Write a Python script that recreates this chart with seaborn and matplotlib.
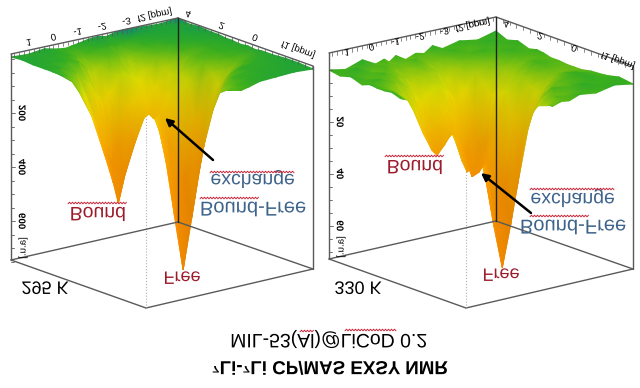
import numpy as np
import matplotlib
matplotlib.use("Agg")
import matplotlib.pyplot as plt
import matplotlib.patheffects as pe
from matplotlib.colors import PowerNorm
from matplotlib.transforms import Affine2D
import seaborn as sns

# grid of the two spectra, as fraction of each box side
grid_a = [0, .1, .2, .28, .33, .36, .40, .46, .52, .57, .62, .68, .78, .89, 1]
grid_b = [0, .1, .2, .3, .38, .43, .48, .54, .60, .65, .70, .76, .84, .92, 1]

# intensity, one row per grid_b
int_295 = [
    [3, 2, 4, 4, 6, 7, 6, 5, 7, 9, 7, 4, 3, 2, 3],
    [3, 3, 4, 5, 8, 9, 8, 7, 10, 13, 10, 6, 4, 3, 2],
    [3, 4, 5, 8, 12, 14, 12, 11, 17, 23, 16, 9, 5, 4, 2],
    [3, 5, 8, 14, 22, 26, 25, 24, 38, 54, 40, 20, 8, 5, 3],
    [4, 9, 14, 24, 34, 40, 40, 52, 103, 147, 114, 62, 20, 10, 3],
    [4, 12, 18, 28, 40, 46, 46, 82, 155, 209, 160, 98, 30, 13, 4],
    [4, 10, 16, 26, 36, 42, 42, 60, 108, 150, 118, 66, 22, 10, 3],
    [3, 8, 20, 38, 58, 66, 54, 46, 64, 85, 58, 28, 12, 7, 4],
    [3, 12, 38, 72, 98, 108, 90, 62, 52, 60, 44, 24, 11, 7, 3],
    [3, 16, 52, 95, 124, 145, 118, 88, 58, 68, 50, 28, 13, 6, 3],
    [3, 11, 36, 68, 94, 105, 84, 55, 46, 52, 40, 22, 10, 4, 2],
    [3, 6, 14, 28, 44, 50, 40, 25, 28, 34, 24, 12, 5, 3, 2],
    [3, 4, 6, 11, 19, 24, 18, 12, 14, 18, 12, 7, 3, 2, 1],
    [2, 3, 4, 7, 11, 13, 10, 6, 6, 7, 5, 3, 2, 2, 2],
    [3, 4, 2, 5, 6, 5, 4, 2, 1, 3, 1, 0, 1, 2, 0],
]
int_330 = [
    [1, -2, 3, 0, 5, 2, 6, 1, 7, 4, 5, 1, 3, -1, 2],
    [-1, 3, 0, 4, 3, 9, 2, 7, 6, 13, 5, 6, -1, 2, 0],
    [3, 0, 5, 2, 11, 8, 12, 6, 17, 18, 15, 4, 5, 0, 3],
    [2, 5, 3, 14, 19, 28, 20, 23, 31, 51, 35, 12, 7, 1, 4],
    [4, 4, 15, 29, 60, 66, 63, 54, 102, 136, 108, 48, 17, 5, 6],
    [3, 12, 18, 44, 76, 88, 84, 80, 148, 191, 150, 80, 24, 9, 6],
    [4, 5, 17, 31, 58, 66, 63, 60, 110, 148, 112, 50, 19, 6, 6],
    [1, 7, 12, 30, 42, 52, 45, 42, 63, 88, 61, 25, 12, 3, 5],
    [2, 6, 18, 44, 64, 70, 60, 53, 80, 104, 73, 30, 14, 4, 5],
    [2, 8, 23, 58, 76, 82, 72, 62, 88, 111, 80, 33, 13, 7, 3],
    [1, 7, 16, 40, 56, 62, 56, 44, 62, 88, 58, 24, 10, 5, 2],
    [4, 2, 9, 17, 28, 34, 26, 22, 30, 42, 30, 14, 8, 1, 4],
    [0, 5, 3, 10, 13, 18, 12, 11, 14, 22, 12, 7, 2, 4, 0],
    [3, -1, 6, 4, 9, 7, 10, 3, 9, 8, 6, 2, 5, -1, 3],
    [1, 4, -2, 5, 2, 6, 1, 7, 3, 5, -1, 4, 0, 3, -2],
]

f2_ticks = [1, 0, -1, -2, -3]
f1_ticks = [4, 2, 0]
z_ticks_295 = [200, 400, 600]
z_ticks_330 = [20, 40, 60]

title_lines = ["\u2077Li-\u2077Li CP/MAS EXSY NMR", "MIL-53(Al)@LiCoD 0.2"]

RED = "#9c1c2c"
BLUE = "#3e648c"
GREY = "#5a5a5a"

sns.set_theme(style="white")
plt.rcParams["font.family"] = ["Liberation Sans", "DejaVu Sans"]

cmap = sns.blend_palette(["#0c8a78", "#22a436", "#3cb01c", "#a0cc0c", "#e0dc00", "#ecc800",
                          "#f0a800", "#f29400", "#f28c00", "#f08a00", "#ee8800"],
                         as_cmap=True)
norm = PowerNorm(0.5, vmin=0, vmax=209, clip=True)


class FlipText(pe.AbstractPathEffect):
    # the whole source image is upside down, text included
    def draw_path(self, renderer, gc, tpath, affine, rgbFace=None):
        renderer.draw_path(gc, tpath, Affine2D().scale(1, -1) + affine, rgbFace)


fig = plt.figure(figsize=(6.4, 3.88), dpi=100)
ax = fig.add_axes([0, 0, 1, 1])


def ftext(x, y, s, size, color="black", rotation=0, **kw):
    # y is the centre of the caps, baseline ends up on top after the flip
    off = 0.36 * size * 100 / 72
    ang = np.deg2rad(rotation)
    ax.text(x - off * np.sin(ang), y - off * np.cos(ang), s, fontsize=size, color=color,
            rotation=rotation, rotation_mode="anchor", ha="center", va="baseline",
            path_effects=[FlipText()], zorder=6, **kw)


def wave(x0, x1, y):
    xs = np.arange(x0, x1, 1.5)
    ax.plot(xs, y + 0.8 * (-1.0) ** np.arange(len(xs)), color="#c8283c", lw=0.7, zorder=6)


def draw_panel(z, p):
    ox, oy = p["far"]
    (ux, uy), (vx, vy) = p["u"], p["v"]
    h = p["height"]

    def pos(a, b, d=0):
        return ox + ux * a + vx * b, oy + uy * a + vy * b + d

    L, B, R, F = pos(0, 1), pos(1, 1), pos(1, 0), pos(0, 0)
    Lb, Bb, Rb, Fb = pos(0, 1, h), pos(1, 1, h - 2), pos(1, 0, h - 3), pos(0, 0, h)

    # box parts behind the surface
    for s, e in [(Lb, Fb), (Fb, Rb)]:
        ax.plot([s[0], e[0]], [s[1], e[1]], color=GREY, lw=1, zorder=1)
    ax.plot([Fb[0], F[0]], [Fb[1], F[1]], color="#b0b0b0", lw=0.8, ls=":", zorder=1)

    Z = np.array(z, dtype=float)
    A, BB = np.meshgrid(grid_a, grid_b)
    X, Y = pos(A, BB, p["plane"] + Z)

    # light from the left, right hand flanks come out a bit darker
    rgb = cmap(norm(Z + p["base"]))[:, :, :3]
    shade = 1 + 0.05 * np.clip(np.gradient(Z, axis=1) / 40, -1, 1)
    rgb = np.clip(rgb * shade[:, :, None], 0, 1)
    ax.pcolormesh(X, Y, rgb, shading="gouraud", zorder=2)

    # box parts in front
    for s, e in [(L, B), (B, R), (L, Lb), (R, Rb), (Lb, Bb), (Bb, Rb)]:
        ax.plot([s[0], e[0]], [s[1], e[1]], color=GREY, lw=1, zorder=3)
    ax.plot([B[0], Bb[0]], [B[1], Bb[1]], color="#222222", lw=1, zorder=3)

    # ticks along the two top edges
    for ppm in np.arange(-5, 1.8, 0.2):
        a = 0.108 + 0.146 * (1 - ppm)
        if 0 <= a <= 1:
            sx, sy = pos(a, 1)
            ax.plot([sx, sx], [sy, sy + 3.5], color=GREY, lw=0.5, zorder=3)
    for ppm in np.arange(-3.4, 4.6, 0.4):
        b = 0.43 + 0.124 * ppm
        if 0 <= b <= 1:
            sx, sy = pos(1, b)
            ax.plot([sx, sx], [sy, sy + 3.5], color=GREY, lw=0.5, zorder=3)

    for ppm in f2_ticks:
        lx, ly = pos(0.108 + 0.146 * (1 - ppm), 1, p["lab"])
        ftext(lx, ly, str(ppm), 7, rotation=12)
    for ppm in f1_ticks:
        lx, ly = pos(1, 0.43 + 0.124 * ppm, p["lab"])
        ftext(lx, ly, str(ppm), 7, rotation=-20)
    lx, ly = pos(0.862, 1, p["lab"])
    ftext(lx, ly, "f2 [ppm]", 7, rotation=12)
    lx, ly = pos(1, 0.11, p["lab"] - 3)
    ftext(lx, ly, "f1 [ppm]", 7, rotation=-20)

    # intensity axis on the left edge
    for t in np.arange(0, p["zmax"], p["zstep"]):
        ty = L[1] + p["zoff"] + t / p["zunit"]
        major = t in p["zticks"]
        ax.plot([L[0], L[0] + (4 if major else 2.5)], [ty, ty], color=GREY, lw=0.6, zorder=3)
    for t in p["zticks"]:
        ftext(L[0] + 11, L[1] + p["zoff"] + t / p["zunit"], str(t), 7, rotation=-90,
              fontweight="bold")
    ftext(L[0] + 11, Lb[1] - 12, "[a.u.]", 7, rotation=-90)

    ax.annotate("", xy=p["arrow"][0], xytext=p["arrow"][1], zorder=5,
                arrowprops=dict(arrowstyle="-|>", color="black", lw=1.8, mutation_scale=11,
                                shrinkA=0, shrinkB=0))

    ftext(*p["bound"], "Bound", 14, RED)
    ftext(*p["free"], "Free", 13, RED)
    ftext(*p["exch"], "exchange", 14, BLUE)
    ftext(*p["bf"], "Bound-Free", 14.5, BLUE)
    ftext(*p["temp"], p["temp_s"], 13)
    for w in p["waves"]:
        wave(*w)


draw_panel(int_295, dict(
    far=(146, 102), u=(167, -36), v=(-135, -48), height=206, plane=0, base=0, lab=-7.5,
    zoff=5, zunit=3.7, zstep=50, zmax=760, zticks=z_ticks_295,
    arrow=((165, 118), (213, 160)),
    bound=(98, 214), free=(182, 278), exch=(253, 181), bf=(253, 209),
    temp=(45, 288), temp_s="295 K",
    waves=[(68, 127, 203), (200, 260, 198), (210, 295, 172)],
))
draw_panel(int_330, dict(
    far=(466, 102), u=(167, -36), v=(-137, -49), height=206, plane=16, base=6, lab=3.5,
    zoff=17, zunit=0.385, zstep=5, zmax=73, zticks=z_ticks_330,
    arrow=((481, 173), (531, 213)),
    bound=(415, 167), free=(501, 275), exch=(573, 200), bf=(573, 227),
    temp=(358, 288), temp_s="330 K",
    waves=[(385, 445, 156), (530, 590, 216), (530, 615, 189)],
))

ftext(329, 341, title_lines[1], 14)
ftext(330, 368, title_lines[0], 13.5, fontweight="bold")
wave(300, 315, 331)
wave(345, 397, 330)

ax.set_xlim(0, 640)
ax.set_ylim(388, 0)
ax.axis("off")
fig.savefig("out.png", dpi=100)
